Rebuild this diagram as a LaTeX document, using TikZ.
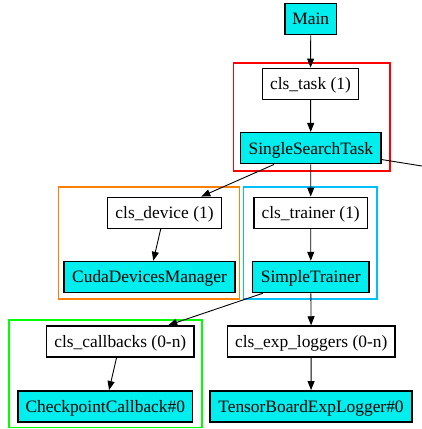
\documentclass[tikz,border=0pt]{standalone}
\usepackage{fontspec}
\setmainfont{Liberation Serif}
\newfontfamily\timesfont{Liberation Serif}
\usetikzlibrary{arrows.meta}
\definecolor{nodecyan}{HTML}{00EEEE}
\definecolor{clred}{HTML}{FF0000}
\definecolor{clorange}{HTML}{FF8000}
\definecolor{clblue}{HTML}{00BFFF}
\definecolor{clgreen}{HTML}{00FF00}
\begin{document}
\begin{tikzpicture}[x=1bp,y=-1bp,
  base/.style={draw=black,line width=1.5bp,inner sep=0pt,minimum height=31bp,
    text height=15.7bp,text depth=4bp,font=\timesfont\fontsize{17.4bp}{20bp}\selectfont},
  clsbox/.style={base,fill=white},
  instbox/.style={base,fill=nodecyan},
  cluster/.style={line width=1.6bp},
  edge/.style={line width=0.9bp,-{Triangle[length=9bp,width=7bp]}},
  plainedge/.style={line width=0.9bp}]
\useasboundingbox (0,0) rectangle (422,429);
% clusters
\draw[cluster,clred] (233.3,62.7) rectangle (389.7,170.7);
\draw[cluster,clorange] (58.3,186.7) rectangle (239.4,298.7);
\draw[cluster,clblue] (243.6,186.7) rectangle (376.7,298.7);
\draw[cluster,clgreen] (8.9,320) rectangle (202,427.6);
% nodes
\node[instbox,minimum width=51.5bp] (main) at (310.8,19) {Main};
\node[clsbox,minimum width=95.5bp] (task) at (310.5,83.8) {cls\_task (1)};
\node[instbox,minimum width=140.2bp] (sst) at (310.8,148.2) {SingleSearchTask};
\node[clsbox,minimum width=113.5bp] (dev) at (164.5,212.8) {cls\_device (1)};
\node[instbox,minimum width=170.9bp] (cdm) at (149.5,277) {CudaDevicesManager};
\node[clsbox,minimum width=113.8bp] (trn) at (310.7,212.8) {cls\_trainer (1)};
\node[instbox,minimum width=116.8bp] (st) at (310.8,277) {SimpleTrainer};
\node[clsbox,minimum width=147.8bp] (cb) at (120.3,341.5) {cls\_callbacks (0-n)};
\node[instbox,minimum width=174.5bp] (ckpt) at (105.3,406.3) {CheckpointCallback\#0};
\node[clsbox,minimum width=167.5bp] (el) at (311.2,341.5) {cls\_exp\_loggers (0-n)};
\node[instbox,minimum width=201.9bp] (tb) at (311,406.3) {TensorBoardExpLogger\#0};
\coordinate (offr) at (445,169.7);
% edges
\draw[edge] (main) -- (task);
\draw[edge] (task) -- (sst);
\draw[edge] (sst) -- (trn);
\draw[edge] (sst) -- (dev);
\draw[plainedge] (sst) -- (offr);
\draw[edge] (dev) -- (cdm);
\draw[edge] (trn) -- (st);
\draw[edge] (st) -- (cb);
\draw[edge] (st) -- (el);
\draw[edge] (cb) -- (ckpt);
\draw[edge] (el) -- (tb);
\end{tikzpicture}
\end{document}
